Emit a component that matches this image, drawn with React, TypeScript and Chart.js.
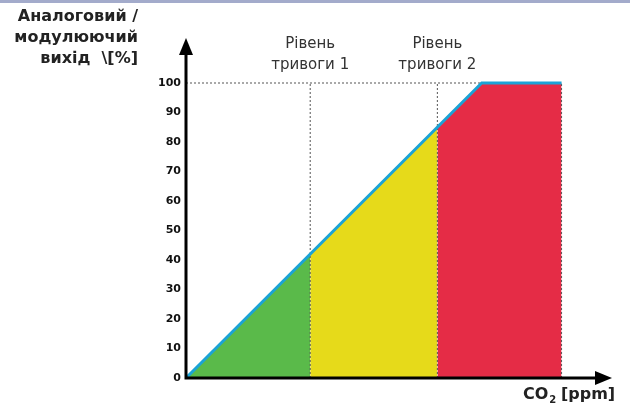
import React, { useEffect, useRef } from "react";
import { Chart, registerables } from "chart.js";
Chart.register(...registerables);

const yTicks = [0, 10, 20, 30, 40, 50, 60, 70, 80, 90, 100];
const alarm1 = 42;
const alarm2 = 85;
const fullAt = 100;
const endX = 127;
const xMax = 140;
const mainLine = [
  { x: 0, y: 0 },
  { x: fullAt, y: 100 },
  { x: endX, y: 100 },
];
const greenZone = [
  { x: 0, y: 0 },
  { x: alarm1, y: alarm1 },
];
const yellowZone = [
  { x: alarm1, y: alarm1 },
  { x: alarm2, y: alarm2 },
];
const redZone = [
  { x: alarm2, y: alarm2 },
  { x: fullAt, y: 100 },
  { x: endX, y: 100 },
];
const alarmLabels = [
  { x: alarm1, lines: ["Рівень", "тривоги 1"] },
  { x: alarm2, lines: ["Рівень", "тривоги 2"] },
];
const yTitle = ["Аналоговий /", "модулюючий", "вихід  \\[%]"];

const FONT = "'DejaVu Sans', Verdana, sans-serif";

const overlay = {
  id: "overlay",
  afterDatasetsDraw(chart: any) {
    const ctx = chart.ctx;
    const xs = chart.scales.x;
    const ys = chart.scales.y;
    const x0 = xs.getPixelForValue(0);
    const y0 = ys.getPixelForValue(0);
    ctx.save();
    // axes
    ctx.strokeStyle = "#000";
    ctx.fillStyle = "#000";
    ctx.lineWidth = 3;
    ctx.beginPath();
    ctx.moveTo(x0, y0 + 1.5);
    ctx.lineTo(x0, 52);
    ctx.moveTo(x0 - 1.5, y0);
    ctx.lineTo(598, y0);
    ctx.stroke();
    ctx.beginPath();
    ctx.moveTo(x0, 38);
    ctx.lineTo(x0 - 7, 55);
    ctx.lineTo(x0 + 7, 55);
    ctx.closePath();
    ctx.fill();
    ctx.beginPath();
    ctx.moveTo(612, y0);
    ctx.lineTo(595, y0 - 7);
    ctx.lineTo(595, y0 + 7);
    ctx.closePath();
    ctx.fill();
    // alarm labels
    ctx.fillStyle = "#333";
    ctx.font = "15px " + FONT;
    ctx.textAlign = "center";
    ctx.textBaseline = "middle";
    alarmLabels.forEach((a) => {
      const px = xs.getPixelForValue(a.x);
      a.lines.forEach((l, i) => ctx.fillText(l, px, 44 + i * 21));
    });
    // y title
    ctx.fillStyle = "#222";
    ctx.font = "bold 16px " + FONT;
    ctx.textAlign = "right";
    yTitle.forEach((l, i) => ctx.fillText(l, 138, 17 + i * 21));
    // x title
    ctx.textAlign = "left";
    ctx.font = "bold 16px " + FONT;
    ctx.fillText("CO", 523, 395);
    const w = ctx.measureText("CO").width;
    ctx.font = "bold 10px " + FONT;
    ctx.fillText("2", 523 + w + 1, 400);
    ctx.font = "bold 16px " + FONT;
    ctx.fillText(" [ppm]", 523 + w + 7, 395);
    ctx.restore();
  },
};

export default function App() {
  const ref = useRef<HTMLCanvasElement>(null);
  useEffect(() => {
    const dotted = (data: any[], order: number) => ({
      type: "line",
      data,
      borderColor: "#555",
      borderWidth: 1,
      borderDash: [2, 2],
      pointRadius: 0,
      fill: false,
      clip: false,
      order,
    });
    const zone = (data: any[], color: string) => ({
      type: "line",
      data,
      borderWidth: 0,
      borderColor: color,
      backgroundColor: color,
      pointRadius: 0,
      fill: "origin",
      tension: 0,
      order: 10,
    });
    const chart = new Chart(ref.current!, {
      type: "line",
      data: {
        datasets: [
          {
            type: "line",
            data: mainLine,
            borderColor: "#1ba3d6",
            borderWidth: 3,
            pointRadius: 0,
            fill: false,
            clip: false,
            order: 0,
          },
          dotted([{ x: 0, y: 100 }, { x: fullAt, y: 100 }], 5),
          dotted([{ x: alarm1, y: 0 }, { x: alarm1, y: 100 }], 5),
          dotted([{ x: alarm2, y: 0 }, { x: alarm2, y: 100 }], 5),
          dotted([{ x: endX, y: 0 }, { x: endX, y: 100 }], 5),
          zone(greenZone, "#5aba4a"),
          zone(yellowZone, "#e6da1a"),
          zone(redZone, "#e52c46"),
        ] as any,
      },
      options: {
        animation: false,
        responsive: false,
        events: [],
        layout: { padding: { left: 0, right: 30, top: 83, bottom: 29 } },
        plugins: { legend: { display: false }, tooltip: { enabled: false } },
        scales: {
          x: { type: "linear", min: 0, max: xMax, display: false },
          y: {
            type: "linear",
            min: 0,
            max: 100,
            afterFit: (s: any) => {
              s.width = 186;
            },
            afterBuildTicks: (s: any) => {
              s.ticks = yTicks.map((v) => ({ value: v }));
            },
            grid: { display: false, drawTicks: false },
            border: { display: false },
            ticks: {
              padding: 5,
              color: "#111",
              font: { family: FONT, size: 11, weight: "bold" },
            },
          },
        },
      } as any,
      plugins: [overlay],
    });
    return () => chart.destroy();
  }, []);
  return (
    <div style={{ position: "fixed", left: 0, top: 0, width: 630, height: 407, background: "#fff" }}>
      <div style={{ position: "absolute", left: 0, top: 0, width: 630, height: 3, background: "#a3abcb" }} />
      <canvas ref={ref} width={630} height={407} style={{ display: "block" }} />
    </div>
  );
}
